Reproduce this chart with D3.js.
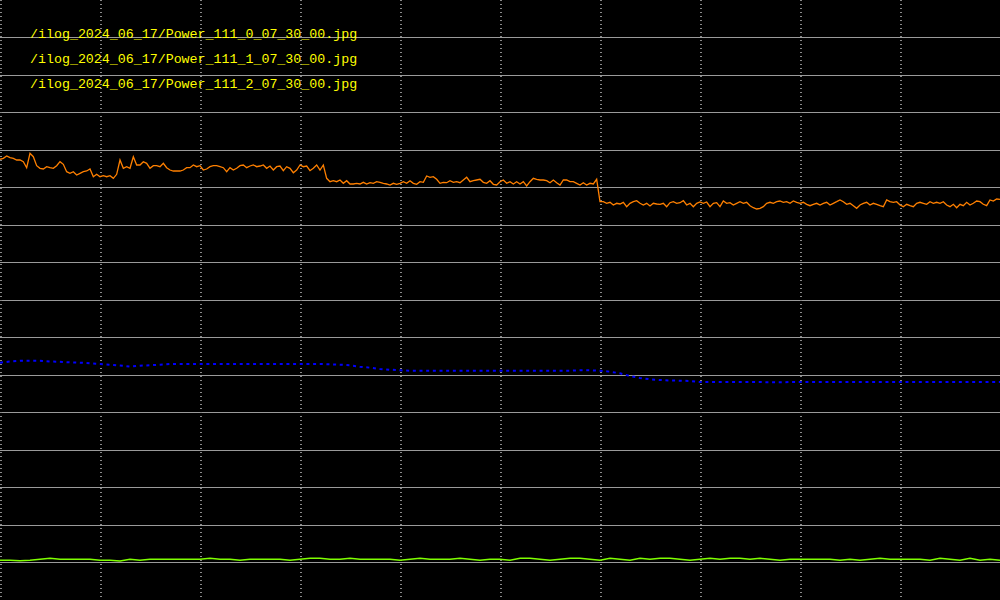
<!DOCTYPE html>
<html>
<head>
<meta charset="utf-8">
<script src="https://cdn.jsdelivr.net/npm/d3@7"></script>
<style>
  html, body { margin: 0; padding: 0; background: #000; }
  svg { display: block; }
</style>
</head>
<body>
<svg id="chart" width="1000" height="600"></svg>
<script>
// ---- data ----
const fileLabels = [
  "/ilog_2024_06_17/Power_111_0_07_30_00.jpg",
  "/ilog_2024_06_17/Power_111_1_07_30_00.jpg",
  "/ilog_2024_06_17/Power_111_2_07_30_00.jpg"
];

// Power_111_0 (orange), 301 samples
const series0 = [
  440.7, 441.7, 444, 442.3, 441.7, 440, 440, 438.3, 432.3, 446.7,
  443.3, 434.3, 431.7, 431, 433.3, 432.3, 431.7, 434.3, 438.3, 435.7,
  428.3, 426.7, 428.3, 425, 426.7, 428.3, 429, 431, 423.3, 425.7,
  423.3, 424.3, 423.3, 424.3, 421.7, 425.7, 440, 431.7, 433.3, 431.7,
  443.3, 435, 435, 438.3, 436.7, 431.7, 434.3, 434.3, 433.3, 436.7,
  432.3, 430, 429, 429, 429, 430, 432.3, 432.3, 435, 433.3,
  434.3, 430, 431, 433.3, 434.3, 434.3, 433.3, 432.3, 428.3, 432.3,
  430, 431.7, 434.3, 435, 432.3,
  434, 435, 433.3, 434, 435, 431.7, 434, 430, 433.3, 434,
  429.3, 433.3, 431.7, 427.3, 430, 435, 433.3, 434, 429.3, 431.7,
  435, 430, 435, 421.7, 418.3, 419.3, 418.3, 420, 416.7, 419.3,
  416, 416, 416.7, 416, 417.7, 416, 417.3, 416.7, 418.3, 417.7,
  416.7, 416, 415, 416.7, 415.7, 416.7, 418.3, 416.7, 419.3, 416.7,
  415.7, 418.3, 417.7, 424, 422.7, 423.3, 420.7, 416.7, 417.7, 417.3,
  419.3, 417.7, 418.3, 417.3, 420, 422.7, 418.3, 419.3, 420, 420.7,
  417.7, 416.7, 419.3, 415.7, 415,
  418.3, 420, 416.7, 418.3, 416, 418.3, 416, 418.3, 414, 418.3,
  421.7, 420.7, 420, 420, 419.3, 417.3, 420, 417.3, 415, 420,
  420, 418.3, 418.3, 416.7, 415, 417.3, 415, 416.7, 416, 420.7,
  398.3, 398.3, 396.7, 397.7, 395, 396.7, 396, 397.7, 393.3, 396.7,
  398.3, 399.3, 396.7, 395, 396.7, 394, 396.7, 396, 395.7, 396.7,
  393.3, 397.3, 398.3, 396.7, 397.3, 399.3, 395, 396.7, 393.3, 396.7,
  398, 396.7, 398, 393.3, 396.7, 397.3, 393.3, 399, 396.7, 397.3,
  395, 396.7, 398.3, 396.7, 397.7,
  394.3, 392.3, 391, 391.7, 393.3, 396.7, 397.7, 396.7, 398.3, 399,
  397.7, 398.3, 396.7, 399, 397.7, 396.7, 397.7, 395.7, 394.3, 395.7,
  396.7, 395, 396.7, 397.7, 395, 396.7, 398.3, 400, 398.3, 395.7,
  396.7, 394.3, 391.7, 395, 396.7, 397.7, 395, 396.7, 395.7, 394.3,
  393.3, 400, 398.3, 397.7, 398.3, 395, 393.3, 395.7, 394.3, 393.3,
  396.7, 397.7, 396.7, 395.7, 398.3, 396.7, 397.7, 396.7, 398.3, 395,
  393.3, 395.7, 392.3, 395.7, 394.3, 397.7, 395, 396.7, 399, 398.3,
  395.7, 394.3, 400, 399, 401, 400.7
];

// Power_111_1 (blue dotted), 101 samples
const series1 = [
  237.3, 238.5, 239.3, 239.3, 239.3, 238.5, 238.2, 237.7, 237.3, 236.7,
  236, 235.3, 234.5, 233.5, 234.3, 234.7, 235.3, 236, 236, 236,
  236, 236, 236, 236, 236, 236, 236, 236, 236, 236,
  236, 236, 236, 235.7, 235.3, 234.7, 233.3, 232.3, 231, 230.3,
  229.7, 229.3, 229.3, 229.3, 229.3, 229.3, 229.3, 229.3, 229.3, 229.3,
  229.3, 229.3, 229.3, 229.3, 229.3, 229.3, 229.3, 229.3, 229.7, 229.7,
  229.3, 228.3, 226.7, 224, 222, 220.7, 220, 219.5, 219.3, 219,
  218, 218, 218, 218, 218, 218, 218, 217.7, 217.7, 218,
  218, 218, 218, 218, 218, 218, 218, 218, 218, 218,
  218, 218, 218, 218, 218, 218, 218, 218, 218, 218,
  218
];

// Power_111_2 (green), 101 samples
const series2 = [
  39.7, 39.7, 39.3, 39.7, 40.7, 41.7, 40.7, 40.7, 40.7, 40.7,
  39.7, 39.7, 39, 40.7, 39.7, 40.7, 40.7, 40.7, 40.7, 40.7,
  40.7, 41.7, 40.7, 40.7, 39.7, 40.7, 40.7, 40.7, 40.7, 39.7,
  40.7, 41.7, 41.7, 40.7, 40.7, 41.7, 40.7, 40.7, 40.7, 40.7,
  39.7, 40.7, 41.7, 40.7, 40.7, 40.7, 41.7, 40.7, 39.7, 40.7,
  40.7, 39.7, 41.7, 41.7, 40.7, 39.7, 40.7, 41.7, 41.7, 40.7,
  39.7, 41.7, 40.7, 39.7, 41.7, 40.7, 41.7, 41.7, 40.7, 39.7,
  40.7, 41.7, 40.7, 41.7, 41.7, 40.7, 41.7, 40.7, 39.7, 40.7,
  40.7, 40.7, 40.7, 40.7, 39.7, 40.7, 39.7, 40.7, 41.7, 40.7,
  40.7, 40.7, 40.7, 39.7, 41.7, 40.7, 39.7, 41.7, 39.7, 40.7,
  39.7
];

const xGridTicks = [0, 1, 2, 3, 4, 5, 6, 7, 8, 9];
const yGridTicks = [37.5, 75, 112.5, 150, 187.5, 225, 262.5, 300, 337.5, 375, 412.5, 450, 487.5, 525, 562.5];

// ---- drawing ----
const W = 1000, H = 600;
const svg = d3.select("#chart");
svg.append("rect").attr("width", W).attr("height", H).attr("fill", "#000");

const y = d3.scaleLinear().domain([0, 600]).range([H, 0]);
const xGrid = d3.scaleLinear().domain([0, 10]).range([1, 1001]);
const x0 = d3.scaleLinear().domain([0, series0.length - 1]).range([0, W]);
const x1 = d3.scaleLinear().domain([0, series1.length - 1]).range([0, W]);
const x2 = d3.scaleLinear().domain([0, series2.length - 1]).range([0, W]);

// horizontal grid
svg.append("g").selectAll("line").data(yGridTicks).join("line")
  .attr("x1", 0).attr("x2", W)
  .attr("y1", d => Math.floor(y(d)) + 0.5).attr("y2", d => Math.floor(y(d)) + 0.5)
  .attr("stroke", "#9a9a9a").attr("stroke-width", 1);

// vertical dotted grid
svg.append("g").selectAll("line").data(xGridTicks).join("line")
  .attr("x1", d => xGrid(d)).attr("x2", d => xGrid(d))
  .attr("y1", 0).attr("y2", H)
  .attr("stroke", "#8a8a8a").attr("stroke-width", 2)
  .attr("stroke-dasharray", "1,3")
  .attr("shape-rendering", "crispEdges");

// labels
svg.append("g").selectAll("text").data(fileLabels).join("text")
  .attr("x", 30).attr("y", (d, i) => 37.7 + i * 25)
  .attr("fill", "#ffff00")
  .attr("font-family", "'Liberation Mono', 'DejaVu Sans Mono', monospace")
  .attr("font-size", "13.3px")
  .text(d => d);

// series lines
const line0 = d3.line().x((d, i) => x0(i)).y(d => y(d));
const line1 = d3.line().x((d, i) => x1(i)).y(d => y(d));
const line2 = d3.line().x((d, i) => x2(i)).y(d => y(d));

svg.append("path").datum(series2).attr("d", line2)
  .attr("fill", "none").attr("stroke", "#7fff00").attr("stroke-width", 1.5);

svg.append("path").datum(series1).attr("d", line1)
  .attr("fill", "none").attr("stroke", "#0000ff").attr("stroke-width", 2)
  .attr("stroke-dasharray", "3,3.67");

svg.append("path").datum(series0).attr("d", line0)
  .attr("fill", "none").attr("stroke", "#ff8000").attr("stroke-width", 1.3)
  .attr("stroke-linejoin", "miter");
</script>
</body>
</html>
